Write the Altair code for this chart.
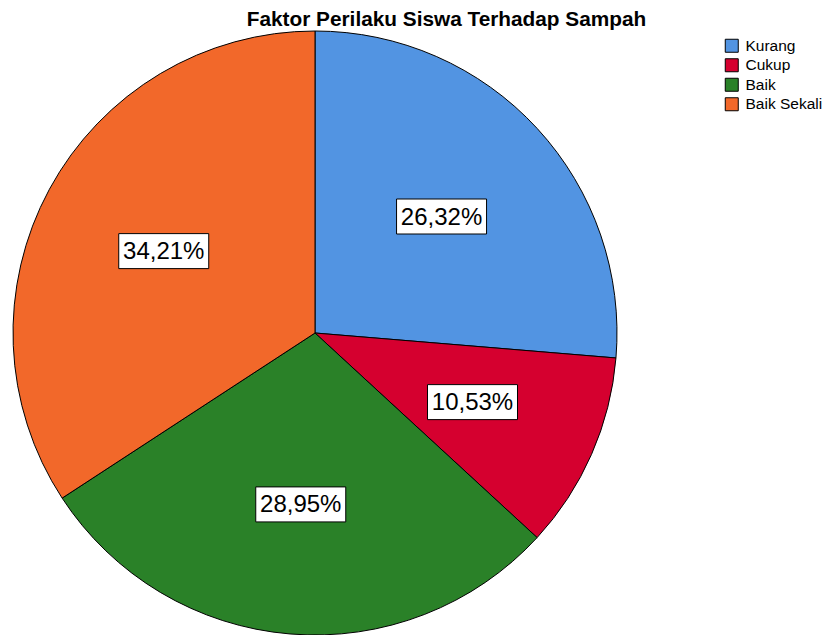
import altair as alt
import pandas as pd

categories = ["Kurang", "Cukup", "Baik", "Baik Sekali"]
percentages = [26.32, 10.53, 28.95, 34.21]
slice_order = [1, 2, 3, 4]
colors = ["#5294E2", "#D5002F", "#2A8128", "#F2682A"]

df = pd.DataFrame({"kategori": categories, "persen": percentages, "urut": slice_order})

TOP = 30
CX, CY, R, RL = 307, 325 - TOP, 302, 172
BW, BH = 90, 35

color_scale = alt.Scale(domain=categories, range=colors)

base = alt.Chart(df)

pie = base.mark_arc(radius=R, x=CX, y=CY, stroke="black", strokeWidth=1).encode(
    theta=alt.Theta("persen:Q", stack=True),
    order=alt.Order("urut:Q"),
    color=alt.Color(
        "kategori:N",
        scale=color_scale,
        sort=categories,
        legend=alt.Legend(
            title=None,
            orient="none",
            legendX=716,
            legendY=30 - TOP,
            symbolType="square",
            symbolSize=169,
            symbolStrokeColor="black",
            symbolStrokeWidth=1,
            symbolOpacity=1,
            labelFont="Liberation Sans",
            labelFontSize=15.5,
            labelColor="black",
            labelOffset=6,
            rowPadding=1.5,
        ),
    ),
)

lab = (
    base.transform_joinaggregate(total="sum(persen)")
    .transform_window(cum="sum(persen)", sort=[alt.SortField("urut")], frame=[None, 0])
    .transform_calculate(
        mid="(datum.cum - datum.persen / 2) / datum.total * 2 * PI",
        label="replace(format(datum.persen, '.2f'), '.', ',') + '%'",
    )
    .transform_calculate(
        lx=f"{CX} + {RL} * sin(datum.mid)",
        ly=f"{CY} - {RL} * cos(datum.mid)",
    )
    .transform_calculate(
        bx1=f"datum.lx - {BW / 2}",
        bx2=f"datum.lx + {BW / 2}",
        by1=f"datum.ly - {BH / 2}",
        by2=f"datum.ly + {BH / 2}",
    )
)

boxes = lab.mark_rect(fill="white", stroke="black", strokeWidth=1).encode(
    x=alt.X("bx1:Q", scale=None, axis=None),
    x2="bx2:Q",
    y=alt.Y("by1:Q", scale=None, axis=None),
    y2="by2:Q",
)

texts = lab.mark_text(
    font="Liberation Sans", fontSize=24, color="black", align="center", baseline="middle", dy=1
).encode(
    x=alt.X("lx:Q", scale=None, axis=None),
    y=alt.Y("ly:Q", scale=None, axis=None),
    text="label:N",
)

chart = (
    alt.layer(pie, boxes, texts)
    .properties(
        width=817,
        height=627 - TOP,
        padding={"left": 0, "right": 0, "top": TOP, "bottom": 0},
        autosize=alt.AutoSizeParams(type="none"),
        title=alt.TitleParams(
            "Faktor Perilaku Siswa Terhadap Sampah",
            font="Liberation Sans",
            fontSize=20.8,
            fontWeight="bold",
            color="black",
            anchor="middle",
            frame="group",
            offset=0,
            baseline="alphabetic",
            dx=30,
            dy=18,
        ),
    )
    .configure_view(stroke=None)
)

chart.save("out.html", embed_options={"renderer": "svg", "actions": False})
